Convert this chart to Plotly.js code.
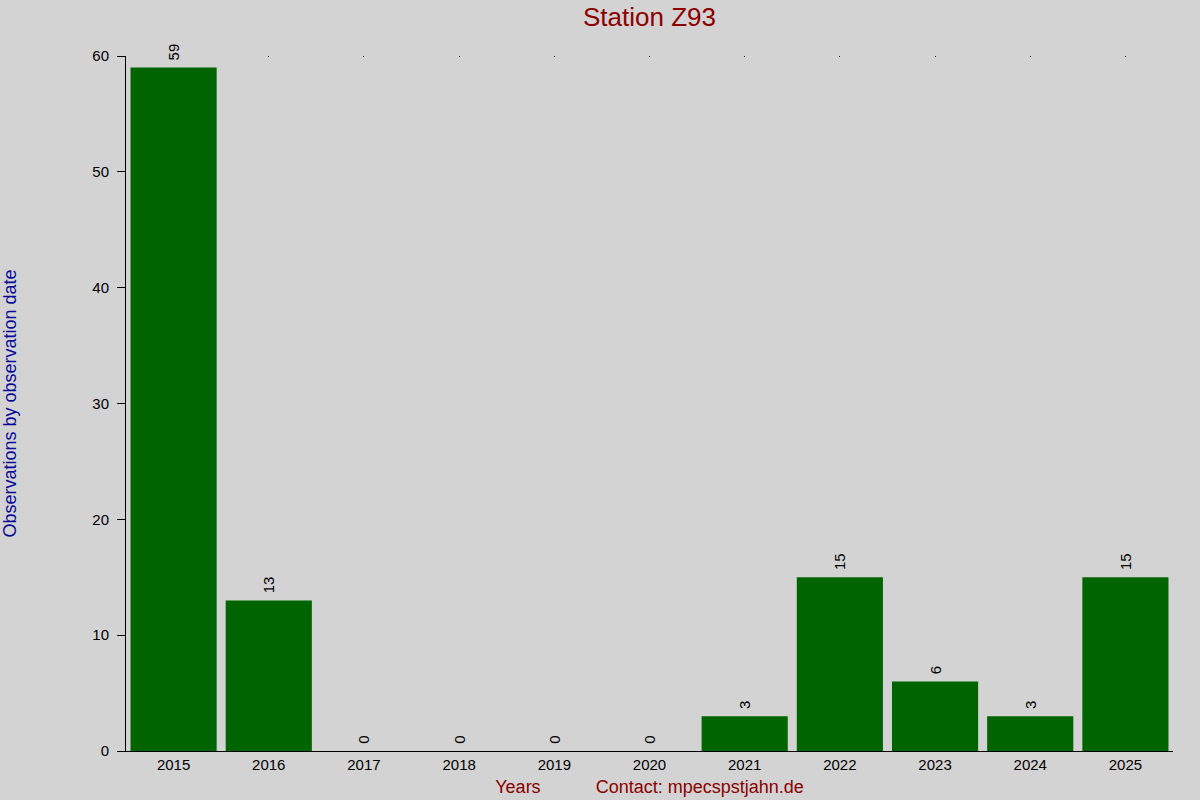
<!DOCTYPE html>
<html>
<head>
<meta charset="utf-8">
<script src="https://cdn.plot.ly/plotly-3.0.1.min.js"></script>
<style>
  html, body { margin: 0; padding: 0; background: #d3d3d3; }
  #chart { width: 1200px; height: 800px; }
</style>
</head>
<body>
<div id="chart"></div>
<script>
// jahre und anzahl beobachtungen
var years = ['2015', '2016', '2017', '2018', '2019', '2020', '2021', '2022', '2023', '2024', '2025'];
var counts = [59, 13, 0, 0, 0, 0, 3, 15, 6, 3, 15];
var yTicks = [0, 10, 20, 30, 40, 50, 60];

var font = 'Liberation Sans, Arial, sans-serif';

var bars = {
  type: 'bar',
  x: years,
  y: counts,
  marker: { color: '#006400' },
  // kleiner abstand zwischen balken und zahl
  text: counts.map(function (c) { return '\u00a0' + c; }),
  textposition: 'outside',
  textangle: -90,
  textfont: { family: font, size: 15, color: '#000000' },
  cliponaxis: false,
  hoverinfo: 'x+y',
  showlegend: false
};

// unsichtbare kopie, nur fuer die kleinen punkte oben
var topTicks = {
  type: 'bar',
  x: years,
  y: counts,
  xaxis: 'x2',
  marker: { color: 'rgba(0,0,0,0)' },
  hoverinfo: 'skip',
  showlegend: false
};

var layout = {
  width: 1200,
  height: 800,
  paper_bgcolor: '#d3d3d3',
  plot_bgcolor: '#d3d3d3',
  margin: { l: 126, r: 27, t: 56, b: 49 },
  bargap: 0.095,
  font: { family: font, size: 15, color: '#000000' },
  title: {
    text: 'Station Z93',
    font: { family: font, size: 26, color: '#8b0000' },
    x: 0.5, xref: 'paper',
    y: 0.979, yref: 'container', yanchor: 'middle'
  },
  xaxis: {
    type: 'category',
    range: [-0.5, 10.5],
    showline: true, linecolor: '#000000', linewidth: 1,
    ticks: '', showgrid: false, zeroline: false,
    tickfont: { family: font, size: 15, color: '#000000' },
    automargin: false,
    title: {
      text: 'Years' + '\u00a0'.repeat(11) + 'Contact: mpecspstjahn.de',
      font: { family: font, size: 18, color: '#8b0000' },
      standoff: 8
    }
  },
  xaxis2: {
    type: 'category',
    overlaying: 'x',
    side: 'top',
    matches: 'x',
    showline: false, showgrid: false, zeroline: false,
    ticks: 'inside', ticklen: 1, tickwidth: 1, tickcolor: '#000000',
    showticklabels: false
  },
  yaxis: {
    range: [0, 60],
    tickvals: yTicks,
    ticks: 'outside', ticklen: 8, tickwidth: 1, tickcolor: '#000000',
    ticklabelstandoff: 5,
    showline: true, linecolor: '#000000', linewidth: 1,
    showgrid: false, zeroline: false,
    tickfont: { family: font, size: 15, color: '#000000' },
    automargin: false,
    title: {
      text: 'Observations by observation date',
      font: { family: font, size: 18, color: '#0a0a9a' },
      standoff: 72
    }
  }
};

Plotly.newPlot('chart', [bars, topTicks], layout, { staticPlot: true });
</script>
</body>
</html>
